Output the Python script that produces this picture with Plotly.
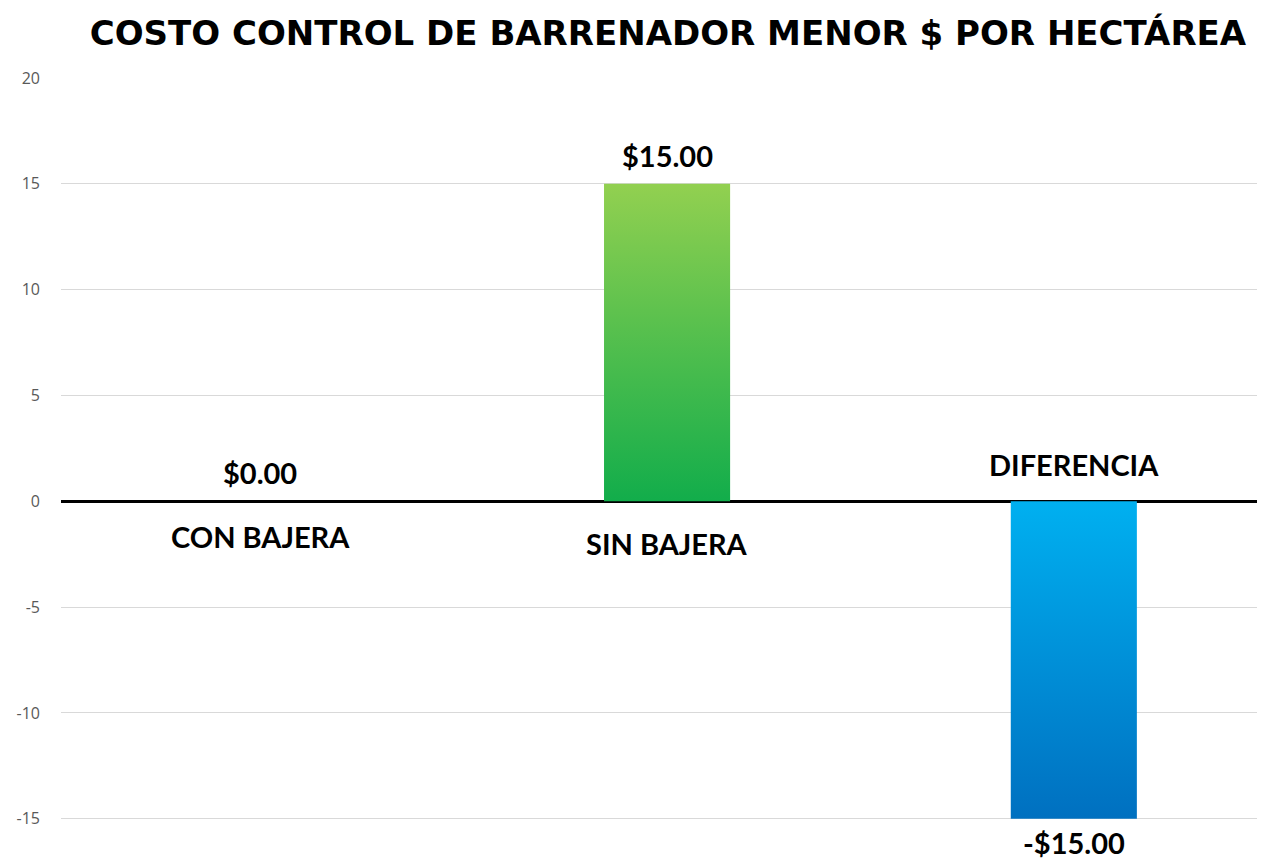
import plotly.graph_objects as go

categories = ["CON BAJERA", "SIN BAJERA", "DIFERENCIA"]
values = [0, 15, -15]
value_labels = ["$0.00", "$15.00", "-$15.00"]
title_text = "COSTO CONTROL DE BARRENADOR MENOR $ POR HECTÁREA"
tick_vals = [-15, -10, -5, 0, 5, 10, 15, 20]
tick_text = ["-15", "-10", "-5", "0", "5", "10", "15", "20"]

gradients = [
    [[0, "#0E9F48"], [1, "#92D050"]],
    [[0, "#12AD4B"], [1, "#92D050"]],
    [[0, "#0070C0"], [1, "#00B0F0"]],
]

bar_w = 0.31
fig = go.Figure()
for i, (cat, v) in enumerate(zip(categories, values)):
    if v == 0:
        continue
    xs = [i - bar_w / 2, i + bar_w / 2, i + bar_w / 2, i - bar_w / 2, i - bar_w / 2]
    ys = [0, 0, v, v, 0]
    fig.add_trace(go.Scatter(
        x=xs, y=ys, mode="lines", fill="toself",
        line=dict(width=0),
        fillgradient=dict(type="vertical", colorscale=gradients[i]),
        hoverinfo="skip", showlegend=False,
    ))

label_font = dict(family="Lato", size=29, color="#000000")
# data labels
for i, (v, lab) in enumerate(zip(values, value_labels)):
    if v >= 0:
        fig.add_annotation(x=i, y=v, text=f"<b>{lab}</b>", showarrow=False,
                           yanchor="bottom", yshift=9, font=label_font)
    else:
        fig.add_annotation(x=i, y=v, text=f"<b>{lab}</b>", showarrow=False,
                           yanchor="top", yshift=-4, font=label_font)

# category labels near the zero line
cat_shift = [-35, -42, 37]
for i, cat in enumerate(categories):
    fig.add_annotation(x=i, y=0, text=f"<b>{cat}</b>", showarrow=False,
                       yanchor="middle", yshift=cat_shift[i], font=label_font)

fig.update_layout(
    width=1257, height=851,
    paper_bgcolor="white", plot_bgcolor="white",
    margin=dict(l=53, r=0, t=70, b=0),
    title=dict(text=f"<b>{title_text}</b>", x=0.525, xanchor="center",
               y=1 - 25 / 851, yanchor="middle",
               font=dict(family="DejaVu Sans", size=34, color="#000000")),
    xaxis=dict(range=[-0.49, 2.47], showgrid=False, zeroline=False,
               showticklabels=False, showline=False),
    yaxis=dict(range=[-16.9, 20], tickvals=tick_vals, ticktext=tick_text,
               showgrid=True, gridcolor="#D9D9D9", gridwidth=1,
               zeroline=True, zerolinecolor="#000000", zerolinewidth=3,
               showline=False, ticks="",
               tickfont=dict(family="Open Sans", size=16, color="#595959"),
               ticklabelstandoff=20),
)

fig.write_html("out.html")
